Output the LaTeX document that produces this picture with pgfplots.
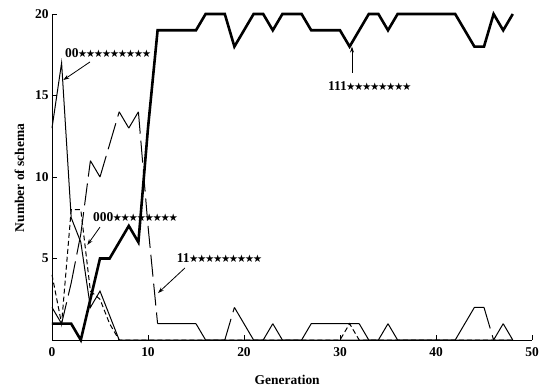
\documentclass[border=0pt]{standalone}
\usepackage{fontspec}
\setmainfont{Liberation Serif}
\newfontfamily\dejavu{DejaVu Sans}
\usepackage{pgfplots}
\pgfplotsset{compat=1.18}
\usetikzlibrary{arrows.meta}
\newcommand\st{\makebox[8bp]{\dejavu\fontsize{10.5}{10.5}\selectfont ★}}
\begin{document}
\begin{tikzpicture}
\useasboundingbox (-52bp,-47bp) rectangle (489bp,340bp);
\begin{axis}[
  at={(0,0)}, anchor=south west,
  scale only axis, width=480bp, height=326bp,
  xmin=0, xmax=50, ymin=0, ymax=20, enlargelimits=false,
  axis x line=bottom, axis y line=left,
  axis line style={-, line width=0.9bp},
  tick align=inside, major tick length=5bp,
  tick style={line width=0.9bp, black},
  xtick={0,10,20,30,40,50}, ytick={5,10,15,20},
  ticklabel style={font=\fontsize{13.5}{13.5}\selectfont\bfseries},
  /pgf/number format/assume math mode=true,
  xticklabel style={yshift=-4bp},
  xlabel={Generation}, ylabel={Number of schema},
  label style={font=\fontsize{13.5}{14}\selectfont\bfseries},
  xlabel style={at={(axis description cs:0.49,-0.138)}, anchor=base},
  ylabel style={at={(axis description cs:-0.0583,0.497)}, anchor=base},
  clip=false, unbounded coords=jump,
]
% 00********* (thin solid)
\addplot[black, line width=1bp] coordinates {
(0,13)(1,17)(2,7.5)(3,6)(4,2)(5,3)(6,1.5)(7,0)(48,0)};
% 000******** (short dash)
\addplot[black, line width=1bp, dash pattern=on 5bp off 3bp] coordinates {
(0,4)(1,1)(2,8)(3,8)(4,3)(5,2.5)(6,1)(7,0)(30,0)(31,1)(32,0)(48,0)};
% 11********* (long dash, dash restarted at each point)
\addplot[black, line width=1bp, dash pattern=on 22bp off 7bp] coordinates {
(0,2)(1,1)(1,nan)
(1,1)(2,3.5)(2,nan)
(2,3.5)(3,6.5)(3,nan)
(3,6.5)(4,11)(4,nan)
(4,11)(5,10)(5,nan)
(5,10)(6,12)(6,nan)
(6,12)(7,14)(7,nan)
(7,14)(8,13)(8,nan)
(8,13)(9,14)(9,nan)
(9,14)(10,7)(10,nan)
(10,7)(11,1)(11,nan)
(11,1)(12,1)(12,nan)
(12,1)(13,1)(13,nan)
(13,1)(14,1)(14,nan)
(14,1)(15,1)(15,nan)
(15,1)(16,0)(16,nan)
(16,0)(17,0)(17,nan)
(17,0)(18,0)(18,nan)
(18,0)(19,2)(19,nan)
(19,2)(20,1)(20,nan)
(20,1)(21,0)(21,nan)
(21,0)(22,0)(22,nan)
(22,0)(23,1)(23,nan)
(23,1)(24,0)(24,nan)
(24,0)(25,0)(25,nan)
(25,0)(26,0)(26,nan)
(26,0)(27,1)(27,nan)
(27,1)(28,1)(28,nan)
(28,1)(29,1)(29,nan)
(29,1)(30,1)(30,nan)
(30,1)(31,1)(31,nan)
(31,1)(32,1)(32,nan)
(32,1)(33,0)(33,nan)
(33,0)(34,0)(34,nan)
(34,0)(35,1)(35,nan)
(35,1)(36,0)(36,nan)
(36,0)(37,0)(37,nan)
(37,0)(38,0)(38,nan)
(38,0)(39,0)(39,nan)
(39,0)(40,0)(40,nan)
(40,0)(41,0)(41,nan)
(41,0)(42,0)(42,nan)
(42,0)(43,1)(43,nan)
(43,1)(44,2)(44,nan)
(44,2)(45,2)(45,nan)
(45,2)(46,0)(46,nan)
(46,0)(47,1)(47,nan)
(47,1)(48,0)};
% 111******** (thick solid)
\addplot[black, line width=2.6bp] coordinates {
(0,1)(1,1)(2,1)(3,0)(4,2.5)(5,5)(6,5)(7,6)(8,7)(9,6)(10,13)(11,19)
(12,19)(13,19)(14,19)(15,19)(16,20)(17,20)(18,20)(19,18)(20,19)(21,20)
(22,20)(23,19)(24,20)(25,20)(26,20)(27,19)(28,19)(29,19)(30,19)(31,18)
(32,19)(33,20)(34,20)(35,19)(36,20)(37,20)(38,20)(39,20)(40,20)(41,20)
(42,20)(43,19)(44,18)(45,18)(46,20)(47,19)(48,20)};
% annotations
\begin{scope}[every node/.style={font=\fontsize{13.5}{13.5}\selectfont\bfseries, inner sep=0pt, anchor=west}]
\node at (axis cs:1.35,17.6) {00\st\st\st\st\st\st\st\st\st};
\node at (axis cs:4.27,7.55) {000\st\st\st\st\st\st\st\st};
\node at (axis cs:13.0,5.03) {11\st\st\st\st\st\st\st\st\st};
\node at (axis cs:28.75,15.6) {111\st\st\st\st\st\st\st\st};
\end{scope}
\begin{scope}[-{Stealth[length=6bp,width=4bp]}, line width=0.8bp]
\draw (axis cs:3.96,17.06) -- (axis cs:1.18,15.95);
\draw (axis cs:5.0,6.93) -- (axis cs:3.68,5.83);
\draw (axis cs:13.85,4.42) -- (axis cs:11.04,2.88);
\draw (axis cs:31.25,16.4) -- (axis cs:31.25,18.0);
\end{scope}
\end{axis}
\end{tikzpicture}
\end{document}
